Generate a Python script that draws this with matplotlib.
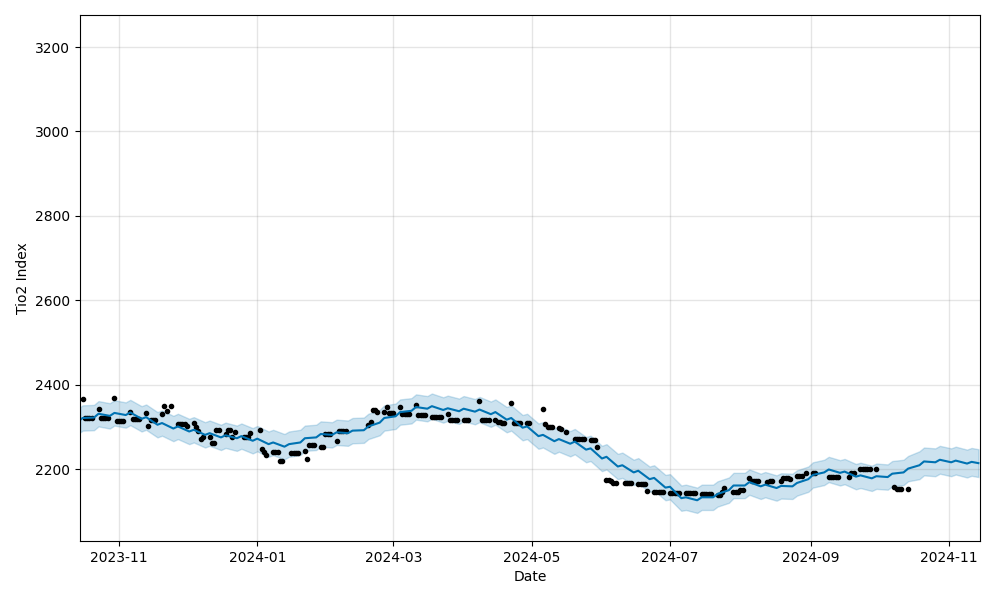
import pandas as pd
import matplotlib.pyplot as plt

# observed index: runs of business days sharing one value
obs_start = ['2023-10-16', '2023-10-17', '2023-10-23', '2023-10-24', '2023-10-30', '2023-10-31',
             '2023-11-06', '2023-11-07', '2023-11-13', '2023-11-14', '2023-11-15', '2023-11-20',
             '2023-11-21', '2023-11-22', '2023-11-24', '2023-11-27', '2023-12-01', '2023-12-04',
             '2023-12-05', '2023-12-06', '2023-12-07', '2023-12-08', '2023-12-12', '2023-12-14',
             '2023-12-18', '2023-12-19', '2023-12-21', '2023-12-22', '2023-12-26', '2023-12-29',
             '2024-01-02', '2024-01-03', '2024-01-04', '2024-01-05', '2024-01-08', '2024-01-11',
             '2024-01-16', '2024-01-22', '2024-01-23', '2024-01-24', '2024-01-29', '2024-01-31',
             '2024-02-05', '2024-02-06', '2024-02-19', '2024-02-20', '2024-02-21', '2024-02-23',
             '2024-02-27', '2024-02-28', '2024-03-04', '2024-03-05', '2024-03-11', '2024-03-12',
             '2024-03-18', '2024-03-25', '2024-03-26', '2024-04-08', '2024-04-09', '2024-04-16',
             '2024-04-18', '2024-04-22', '2024-04-23', '2024-05-06', '2024-05-07', '2024-05-08',
             '2024-05-13', '2024-05-14', '2024-05-16', '2024-05-20', '2024-05-27', '2024-05-30',
             '2024-06-03', '2024-06-05', '2024-06-06', '2024-06-11', '2024-06-17', '2024-06-21',
             '2024-06-24', '2024-07-01', '2024-07-15', '2024-07-22', '2024-07-24', '2024-07-25',
             '2024-07-29', '2024-08-01', '2024-08-05', '2024-08-06', '2024-08-13', '2024-08-14',
             '2024-08-19', '2024-08-20', '2024-08-23', '2024-08-26', '2024-08-30', '2024-09-09',
             '2024-09-18', '2024-09-19', '2024-09-23', '2024-10-08', '2024-10-09']
obs_end = ['2023-10-16', '2023-10-20', '2023-10-23', '2023-10-27', '2023-10-30', '2023-11-03',
           '2023-11-06', '2023-11-10', '2023-11-13', '2023-11-14', '2023-11-17', '2023-11-20',
           '2023-11-21', '2023-11-22', '2023-11-24', '2023-11-30', '2023-12-01', '2023-12-04',
           '2023-12-05', '2023-12-06', '2023-12-07', '2023-12-11', '2023-12-13', '2023-12-15',
           '2023-12-18', '2023-12-20', '2023-12-21', '2023-12-22', '2023-12-28', '2023-12-29',
           '2024-01-02', '2024-01-03', '2024-01-04', '2024-01-05', '2024-01-10', '2024-01-12',
           '2024-01-19', '2024-01-22', '2024-01-23', '2024-01-26', '2024-01-30', '2024-02-02',
           '2024-02-05', '2024-02-09', '2024-02-19', '2024-02-20', '2024-02-22', '2024-02-26',
           '2024-02-27', '2024-03-01', '2024-03-04', '2024-03-08', '2024-03-11', '2024-03-15',
           '2024-03-22', '2024-03-25', '2024-04-03', '2024-04-08', '2024-04-15', '2024-04-17',
           '2024-04-19', '2024-04-22', '2024-04-30', '2024-05-06', '2024-05-07', '2024-05-10',
           '2024-05-13', '2024-05-14', '2024-05-16', '2024-05-24', '2024-05-29', '2024-05-30',
           '2024-06-04', '2024-06-05', '2024-06-07', '2024-06-14', '2024-06-20', '2024-06-21',
           '2024-06-28', '2024-07-12', '2024-07-19', '2024-07-23', '2024-07-24', '2024-07-25',
           '2024-07-31', '2024-08-02', '2024-08-05', '2024-08-09', '2024-08-13', '2024-08-15',
           '2024-08-19', '2024-08-22', '2024-08-23', '2024-08-28', '2024-09-03', '2024-09-13',
           '2024-09-18', '2024-09-20', '2024-09-30', '2024-10-08', '2024-10-14']
obs_value = [2366, 2322, 2342, 2320, 2368, 2314,
             2335, 2318, 2332, 2302, 2316, 2330,
             2349, 2337, 2349, 2307, 2303, 2309,
             2300, 2290, 2271, 2276, 2262, 2292,
             2283, 2293, 2276, 2287, 2276, 2285,
             2292, 2247, 2240, 2234, 2240, 2219,
             2239, 2243, 2224, 2257, 2252, 2283,
             2266, 2290, 2304, 2311, 2340, 2334,
             2347, 2332, 2347, 2330, 2352, 2328,
             2323, 2330, 2316, 2361, 2316, 2311,
             2309, 2356, 2309, 2342, 2306, 2300,
             2298, 2295, 2288, 2271, 2268, 2252,
             2175, 2172, 2168, 2166, 2165, 2149,
             2146, 2143, 2142, 2138, 2146, 2155,
             2146, 2150, 2179, 2172, 2169, 2172,
             2172, 2178, 2176, 2183, 2190, 2181,
             2181, 2190, 2200, 2157, 2153]

# forecast (yhat): weekly peaks on Mondays, dips on the Saturdays before
fc_first = ('2023-10-15', 2317)
fc_last = ('2024-11-14', 2214)
yhat_peak = [2321, 2331, 2333, 2334, 2323, 2309, 2301, 2293, 2285, 2280,
             2278, 2272, 2263, 2259, 2273, 2283, 2287, 2291, 2301, 2321,
             2335, 2347, 2349, 2344, 2343, 2341, 2335, 2321, 2301, 2281,
             2271, 2265, 2249, 2229, 2209, 2196, 2179, 2158, 2133, 2133,
             2141, 2161, 2169, 2163, 2160, 2167, 2186, 2199, 2194, 2185,
             2183, 2189, 2201, 2218, 2222, 2220, 2217]
yhat_dip = [2322, 2326, 2328, 2319, 2305, 2296, 2289, 2281, 2275, 2273,
            2267, 2259, 2253, 2263, 2275, 2281, 2285, 2292, 2310, 2325,
            2338, 2343, 2340, 2337, 2336, 2330, 2317, 2298, 2278, 2266,
            2260, 2246, 2225, 2206, 2192, 2176, 2156, 2131, 2126, 2133,
            2150, 2161, 2159, 2155, 2159, 2176, 2192, 2191, 2182, 2178,
            2181, 2192, 2209, 2216, 2216, 2213]
band_half = [30, 33]  # uncertainty half-width: history, future

obs_dates = []
obs_y = []
for s, e, v in zip(obs_start, obs_end, obs_value):
    for d in pd.bdate_range(s, e):
        obs_dates.append(d)
        obs_y.append(v)

peak_dates = pd.date_range('2023-10-16', '2024-11-11', freq='W-MON')
dip_dates = pd.date_range('2023-10-21', '2024-11-09', freq='W-SAT')
fc = pd.concat([
    pd.Series([fc_first[1]], index=[pd.Timestamp(fc_first[0])]),
    pd.Series(yhat_peak, index=peak_dates),
    pd.Series(yhat_dip, index=dip_dates),
    pd.Series([fc_last[1]], index=[pd.Timestamp(fc_last[0])]),
]).sort_index()
half = [band_half[0] if d <= obs_dates[-1] else band_half[1] for d in fc.index]
lower = fc.values - half
upper = fc.values + half

fig = plt.figure(figsize=(10, 6), facecolor='w')
ax = fig.add_subplot(111)
ax.plot(obs_dates, obs_y, 'k.')
ax.plot(fc.index, fc.values, ls='-', c='#0072B2')
ax.fill_between(fc.index, lower, upper, color='#0072B2', alpha=0.2)
ax.grid(True, which='major', c='gray', ls='-', lw=1, alpha=0.2)
ax.set_xlim(pd.Timestamp('2023-10-14 20:00'), pd.Timestamp('2024-11-14 17:00'))
ax.set_ylim(2029, 3276)
ax.set_xlabel('Date')
ax.set_ylabel('Tio2 Index')
fig.subplots_adjust(left=0.08, right=0.98, top=0.975, bottom=0.098)
plt.savefig('out.png', dpi=100)
